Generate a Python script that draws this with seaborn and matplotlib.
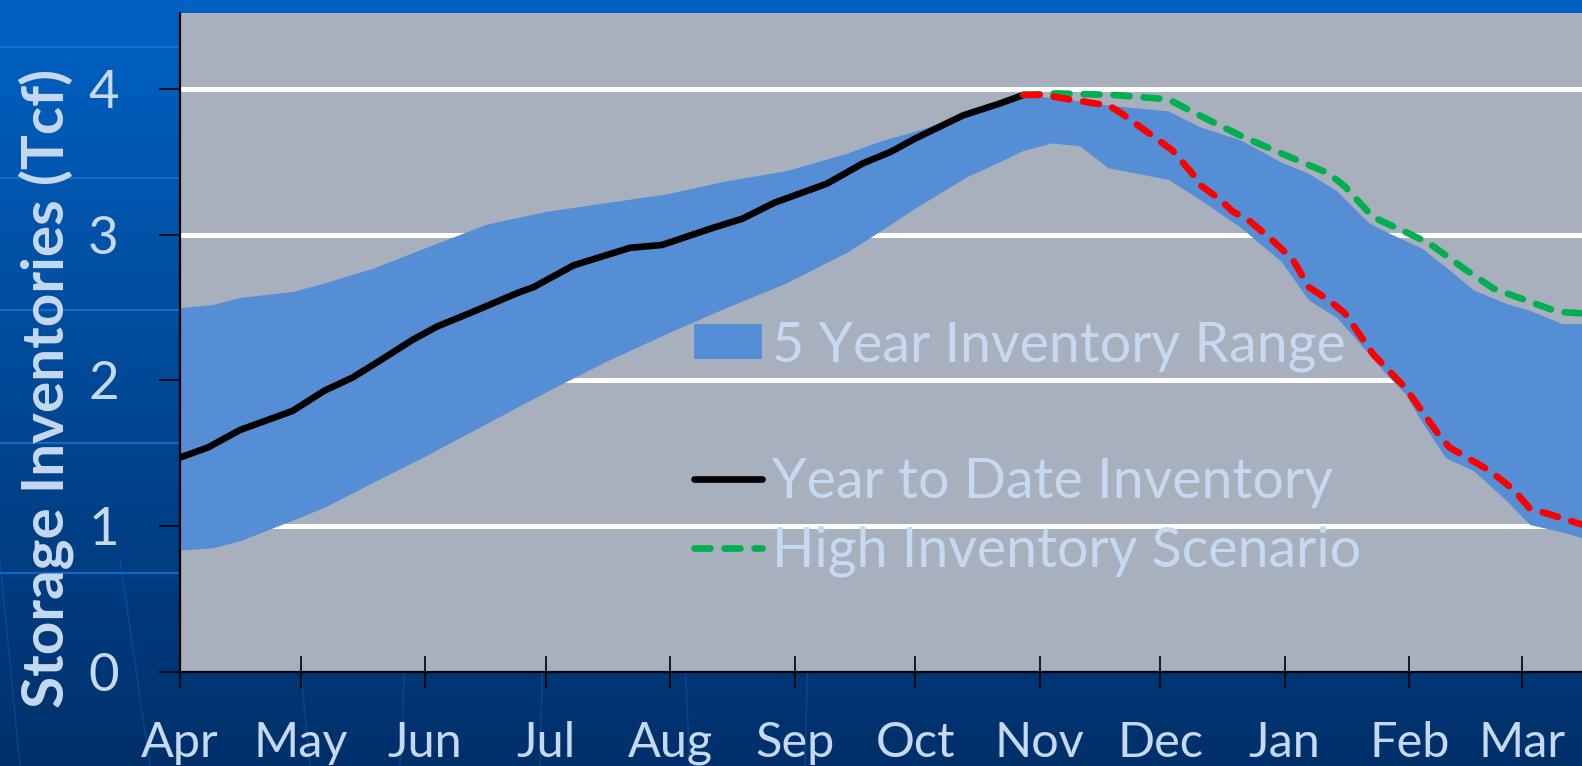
import numpy as np
import seaborn as sns
import matplotlib
matplotlib.use("Agg")
from matplotlib import pyplot as plt
from matplotlib.patches import Patch
from matplotlib.lines import Line2D

# months on the x axis (days counted from 1 April)
month_labels = ['Apr', 'May', 'Jun', 'Jul', 'Aug', 'Sep', 'Oct', 'Nov', 'Dec', 'Jan', 'Feb', 'Mar']
month_days = [0, 30, 61, 91, 122, 153, 183, 214, 244, 275, 306, 334]

# 5 year range (Tcf)
band_days = [0, 8, 15, 28, 36, 48, 61, 76, 91, 106, 121, 136, 151, 166, 174, 184, 196, 204, 210,
             217, 224, 231, 246, 254, 264, 274, 281, 288, 296, 301, 305, 309, 315, 322, 330, 336, 344, 349]
band_high = [2.50, 2.52, 2.57, 2.61, 2.67, 2.77, 2.91, 3.07, 3.16, 3.22, 3.28, 3.37, 3.44, 3.56, 3.64,
             3.72, 3.83, 3.92, 3.97, 3.94, 3.92, 3.89, 3.85, 3.74, 3.65, 3.50, 3.42, 3.30, 3.08, 3.01,
             2.96, 2.91, 2.78, 2.62, 2.53, 2.48, 2.39, 2.39]
band_low = [0.835, 0.85, 0.90, 1.04, 1.13, 1.30, 1.48, 1.70, 1.92, 2.13, 2.32, 2.50, 2.67, 2.88, 3.02,
            3.20, 3.40, 3.50, 3.58, 3.63, 3.61, 3.46, 3.38, 3.24, 3.05, 2.82, 2.55, 2.43, 2.18, 2.02,
            1.91, 1.72, 1.47, 1.38, 1.18, 1.01, 0.96, 0.92]

# year to date
ytd_days = [0, 7, 15, 28, 36, 43, 50, 58, 64, 72, 84, 88, 98, 112, 120, 133, 140, 148, 161, 170,
            177, 183, 195, 204, 210]
ytd = [1.47, 1.54, 1.66, 1.79, 1.93, 2.02, 2.14, 2.28, 2.37, 2.46, 2.60, 2.64, 2.79, 2.91, 2.93,
       3.05, 3.11, 3.22, 3.35, 3.49, 3.57, 3.66, 3.82, 3.90, 3.96]

# low scenario (red)
low_days = [210, 215, 219, 228, 231, 234, 241, 247, 252, 254, 259, 262, 266, 272, 277, 281, 286,
            290, 297, 305, 313, 316, 326, 332, 336, 341, 349]
low = [3.96, 3.96, 3.94, 3.90, 3.89, 3.84, 3.70, 3.58, 3.42, 3.34, 3.24, 3.16, 3.10, 2.96, 2.83,
       2.64, 2.55, 2.46, 2.18, 1.95, 1.64, 1.54, 1.38, 1.25, 1.12, 1.08, 1.01]

# high scenario (green)
high_days = [210, 218, 232, 246, 253, 264, 274, 286, 290, 297, 305, 311, 320, 327, 335, 343, 349]
high = [3.96, 3.97, 3.96, 3.93, 3.83, 3.68, 3.56, 3.42, 3.33, 3.12, 3.02, 2.94, 2.76, 2.63, 2.55,
        2.47, 2.46]

sns.set_style("white")
plt.rcParams['font.family'] = ['Lato', 'DejaVu Sans']

txt_col = '#c6d9f1'
band_col = '#558ed5'
dash = (0, (2.4, 2.1))

W, H = 1582, 766
fig = plt.figure(figsize=(W / 100, H / 100), dpi=100)

# slide background: blue gradient with faint lines
bg = fig.add_axes([0, 0, 1, 1], zorder=0)
top = np.array([0, 98, 196]) / 255
bot = np.array([0, 48, 106]) / 255
t = np.linspace(0, 1, 256)[:, None, None]
grad = top * (1 - t) + bot * t
bg.imshow(np.repeat(grad, 2, axis=1), aspect='auto', extent=[0, W, H, 0])
for yy in [47, 178, 310, 443, 573]:
    bg.plot([0, W], [yy, yy], color='#1a78dc', lw=1.6, alpha=0.7)
for x0, x1 in [(0, 20), (120, 150), (290, 310), (410, 400), (545, 540), (680, 690), (810, 805)]:
    bg.plot([x0, x1], [560, H], color='#1a6cc8', lw=1.2, alpha=0.3)
bg.set_xlim(0, W)
bg.set_ylim(H, 0)
bg.axis('off')

ax = fig.add_axes([180 / W, 1 - 671.7 / H, 1 - 180 / W, (671.7 - 13.3) / H], zorder=1)
ax.set_facecolor('#a8afbd')

ax.fill_between(band_days, band_low, band_high, color=band_col, lw=0, zorder=2)
sns.lineplot(x=ytd_days, y=ytd, ax=ax, color='black', linewidth=4.8,
             solid_capstyle='round', zorder=3)
sns.lineplot(x=high_days, y=high, ax=ax, color='#00b050', linewidth=4.8,
             linestyle=dash, dash_capstyle='round', zorder=4)
sns.lineplot(x=low_days, y=low, ax=ax, color='#ff0000', linewidth=4.8,
             linestyle=dash, dash_capstyle='round', zorder=5)

ax.set_xlim(0, 349)
ax.set_ylim(0, 4.52)
ax.set_xticks(month_days)
ax.set_xticklabels(month_labels)
ax.set_yticks([0, 1, 2, 3, 4])
ax.set_xlabel('')
ax.set_ylabel('')

ax.grid(axis='y', color='white', lw=3.6)
ax.grid(axis='x', visible=False)
ax.set_axisbelow(True)
ax.yaxis.get_gridlines()[0].set_visible(False)

for s in ['top', 'right']:
    ax.spines[s].set_visible(False)
for s in ['left', 'bottom']:
    ax.spines[s].set_color('black')
    ax.spines[s].set_linewidth(1.6)

ax.tick_params(axis='x', direction='inout', length=23, width=1.2, color='black',
               labelcolor=txt_col, labelsize=35, pad=24, bottom=True)
ax.tick_params(axis='y', direction='out', length=15, width=1.2, color='black',
               labelcolor=txt_col, labelsize=38, pad=29, left=True)

fig.text(46 / W, 1 - 388 / H, 'Storage Inventories (Tcf)', rotation=90, ha='center',
         va='center', color=txt_col, fontsize=42, fontweight='bold')

handles = [Patch(facecolor=band_col, edgecolor='none'),
           Line2D([], [], color='none'),
           Line2D([], [], color='black', lw=4.8, solid_capstyle='round'),
           Line2D([], [], color='#00b050', lw=4.8, linestyle=dash, dash_capstyle='round')]
labels = ['5 Year Inventory Range', ' ', 'Year to Date Inventory', 'High Inventory Scenario']
leg = ax.legend(handles, labels, loc='upper left', bbox_to_anchor=(0.3666, 0.534),
                frameon=False, fontsize=40, borderpad=0, borderaxespad=0,
                handlelength=1.22, handleheight=0.6, handletextpad=0.18, labelspacing=0.31)
for tx in leg.get_texts():
    tx.set_color(txt_col)

fig.savefig('out.png', dpi=100)
